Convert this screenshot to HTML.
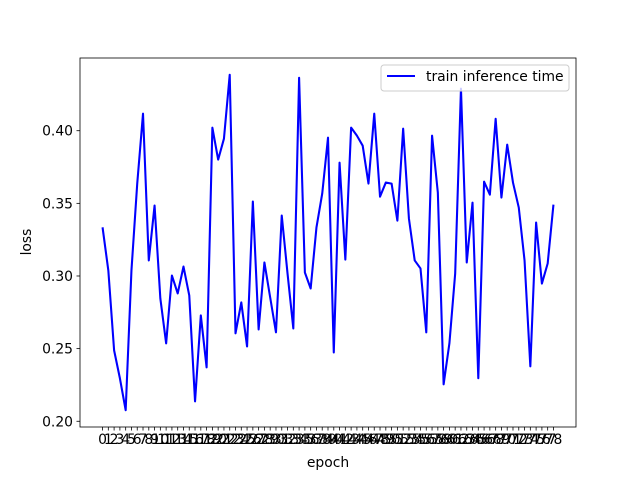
<!DOCTYPE html>
<html><head><meta charset="utf-8"><style>
html,body{margin:0;padding:0;background:#fff;}
svg text{font-family:"DejaVu Sans","Liberation Sans",sans-serif;font-size:13.9px;fill:#000;}
</style></head><body>
<svg id="chart" width="640" height="480" viewBox="0 0 640 480" xmlns="http://www.w3.org/2000/svg">
<rect width="640" height="480" fill="#fff"/>
<g id="xticks"></g>
<g id="yticks"></g>
<polyline id="series" fill="none" stroke="#0000ff" stroke-width="2.08" stroke-linejoin="round"/>
<rect x="80" y="58" width="496" height="369" fill="none" stroke="#000" stroke-width="0.8"/>
<text x="328" y="467" text-anchor="middle">epoch</text>
<text x="31" y="242" text-anchor="middle" transform="rotate(-90 31 242)">loss</text>
<g>
<rect x="381" y="65" width="188" height="26" rx="3" fill="#fff" fill-opacity="0.8" stroke="#ccc" stroke-width="1"/>
<line x1="387" y1="76" x2="415" y2="76" stroke="#0000ff" stroke-width="2.08"/>
<text x="426" y="81">train inference time</text>
</g>
</svg>
<script>
const epochs = Array.from({length:79},(_,i)=>i);
const lossValues = [0.3335,0.3038,0.2488,0.2296,0.2076,0.3038,0.3636,0.4117,0.3107,0.3485,
0.2845,0.2536,0.3003,0.2880,0.3065,0.2866,0.2137,0.2729,0.2371,0.4021,
0.3801,0.3945,0.4385,0.2605,0.2818,0.2515,0.3512,0.2632,0.3093,0.2852,
0.2612,0.3416,0.3017,0.2639,0.4364,0.3024,0.2914,0.3333,0.3567,0.3952,
0.2474,0.3780,0.3113,0.4021,0.3966,0.3897,0.3636,0.4117,0.3546,0.3643,
0.3636,0.3381,0.4014,0.3395,0.3107,0.3052,0.2612,0.3966,0.3574,0.2254,
0.2536,0.3017,0.4289,0.3093,0.3505,0.2296,0.3649,0.3560,0.4082,0.3540,
0.3904,0.3643,0.3471,0.3107,0.2378,0.3368,0.2948,0.3086,0.3491];
const yTickValues = [0.20,0.25,0.30,0.35,0.40];
const yTickLabels = ["0.20","0.25","0.30","0.35","0.40"];

const L=80,R=576,T=58,B=427,NS="http://www.w3.org/2000/svg";
const xmin=epochs[0],xmax=epochs[epochs.length-1],xm=(xmax-xmin)*0.05;
const ymn=Math.min(...lossValues),ymx=Math.max(...lossValues),ym=(ymx-ymn)*0.05;
function xs(v){return L+(v-(xmin-xm))/((xmax+xm)-(xmin-xm))*(R-L);}
function ys(v){return B-(v-(ymn-ym))/((ymx+ym)-(ymn-ym))*(B-T);}

const xg=document.getElementById('xticks');
epochs.forEach(e=>{
  const x=xs(e);
  const t=document.createElementNS(NS,'line');
  t.setAttribute('x1',x);t.setAttribute('x2',x);t.setAttribute('y1',B);t.setAttribute('y2',B+3.5);
  t.setAttribute('stroke','#000');t.setAttribute('stroke-width','0.8');
  
  
  xg.appendChild(t);
  const l=document.createElementNS(NS,'text');
  l.setAttribute('x',x);l.setAttribute('y',B+17);l.setAttribute('text-anchor','middle');
  l.textContent=String(e);
  
  
  xg.appendChild(l);
});
const yg=document.getElementById('yticks');
yTickValues.forEach((v,i)=>{
  const y=ys(v);
  const t=document.createElementNS(NS,'line');
  t.setAttribute('x1',L-3.5);t.setAttribute('x2',L);t.setAttribute('y1',y);t.setAttribute('y2',y);
  t.setAttribute('stroke','#000');t.setAttribute('stroke-width','0.8');
  
  
  yg.appendChild(t);
  const l=document.createElementNS(NS,'text');
  l.setAttribute('x',L-7);l.setAttribute('y',y+5);l.setAttribute('text-anchor','end');
  l.textContent=yTickLabels[i];
  
  
  yg.appendChild(l);
});
document.getElementById('series').setAttribute('points',
  lossValues.map((v,i)=>xs(epochs[i]).toFixed(2)+','+ys(v).toFixed(2)).join(' '));
</script>
</body></html>
